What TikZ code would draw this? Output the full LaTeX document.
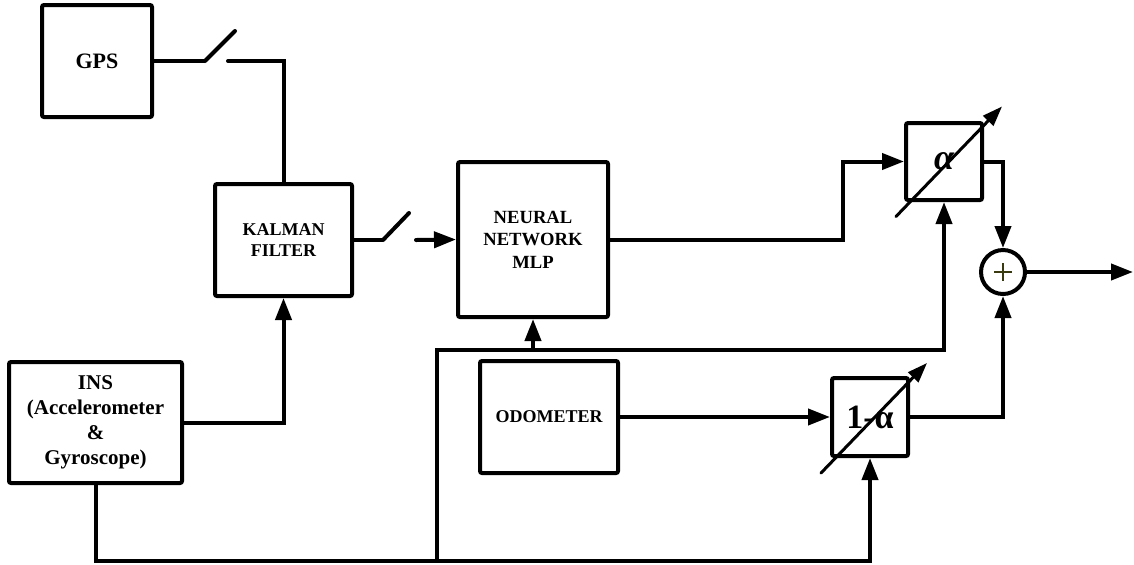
\documentclass[tikz,border=0pt]{standalone}
\usepackage{fontspec}
\setmainfont{Liberation Serif}
\usetikzlibrary{arrows.meta, positioning, calc}
\definecolor{plusolive}{HTML}{3A3A10}
\tikzset{
  block/.style={draw, line width=2pt, rounded corners=1pt, inner sep=0pt, align=center},
  wire/.style={line width=2pt},
  gainarrow/.style={line width=1.5pt, line cap=round, -{Triangle[length=10pt,width=7pt]}},
}

\begin{document}
\begin{tikzpicture}[x=0.5pt, y=-0.5pt, >={Triangle[length=11pt,width=8pt]}]
  \useasboundingbox (0,0) rectangle (1134,564);

  % blocks
  \node[block, minimum width=55pt, minimum height=56pt,
        font=\bfseries\fontsize{11}{12}\selectfont] (gps) at (97,61) {GPS};
  \node[block, minimum width=68.5pt, minimum height=56pt,
        font=\bfseries\fontsize{9}{10.5}\selectfont] (kalman) at (283.5,240) {KALMAN\\FILTER};
  \node[block, minimum width=75pt, minimum height=77.5pt,
        font=\bfseries\fontsize{9.3}{11.25}\selectfont] (nn) at (533,239.5) {NEURAL\\NETWORK\\MLP};
  \node[block, minimum width=86.5pt, minimum height=60.5pt,
        font=\bfseries\fontsize{10.5}{12.5}\selectfont] (ins) at (95.5,422.5)
        {INS\\(Accelerometer\\\&\\Gyroscope)};
  \node[block, minimum width=69pt, minimum height=56pt,
        font=\bfseries\fontsize{9}{10}\selectfont] (odo) at (549,417) {ODOMETER};
  \node[block, minimum width=38pt, minimum height=38.5pt,
        font=\bfseries\itshape\fontsize{18}{18}\selectfont] (alpha) at (944,161.5) {α};
  \node[block, minimum width=38pt, minimum height=39pt,
        font=\bfseries\fontsize{17}{17}\selectfont] (oneminus) at (870,417) {1-α};
  \node[circle, draw, line width=2pt, minimum size=22pt, inner sep=0pt] (sum) at (1003,272) {};
  \draw[plusolive, line width=1.3pt] ($(sum.center)+(-9,0)$) -- ($(sum.center)+(9,0)$)
                                     ($(sum.center)+(0,-9)$) -- ($(sum.center)+(0,9)$);

  % switches
  \coordinate (swA) at (205,61);
  \coordinate (swAtip) at (235,31);
  \coordinate (swAout) at (228,61);
  \coordinate (swB) at (383,240);
  \coordinate (swBtip) at (409,213);
  \coordinate (swBout) at (416,240);
  \draw[wire] (gps.east) -- (swA);
  \draw[wire, line cap=round] (swA) -- (swAtip);
  \draw[wire, line cap=round] (swAout) -| (kalman.north);
  \draw[wire] (kalman.east) -- (swB);
  \draw[wire, line cap=round] (swB) -- (swBtip);
  \draw[wire, line cap=round, ->] (swBout) -- (nn.west);

  % signal paths
  \coordinate (nnkink) at (843,239.5);
  \coordinate (bus) at (437,561);
  \coordinate (tap) at (437,350);
  \coordinate (out) at (1133,272);
  \draw[wire, ->] (ins.east) -| (kalman.south);
  \draw[wire, ->] (nn.east) -- (nnkink) |- (alpha.west);
  \draw[wire, ->] (odo.east) -- (oneminus.west);
  \draw[wire, ->] (alpha.east) -| (sum.north);
  \draw[wire, ->] (oneminus.east) -| (sum.south);
  \draw[wire, ->] (sum.east) -- (out);
  \draw[wire, ->] (ins.south) -- (ins.south |- bus) -| (oneminus.south);
  \draw[wire, ->] (bus) -- (tap) -| (alpha.south);
  \draw[wire, ->] (tap -| nn.south) -- (nn.south);

  % variable gains
  \draw[gainarrow] ($(alpha.center)+(-48,55)$) -- ($(alpha.center)+(58,-55)$);
  \draw[gainarrow] ($(oneminus.center)+(-49,56)$) -- ($(oneminus.center)+(57,-54)$);
\end{tikzpicture}
\end{document}
